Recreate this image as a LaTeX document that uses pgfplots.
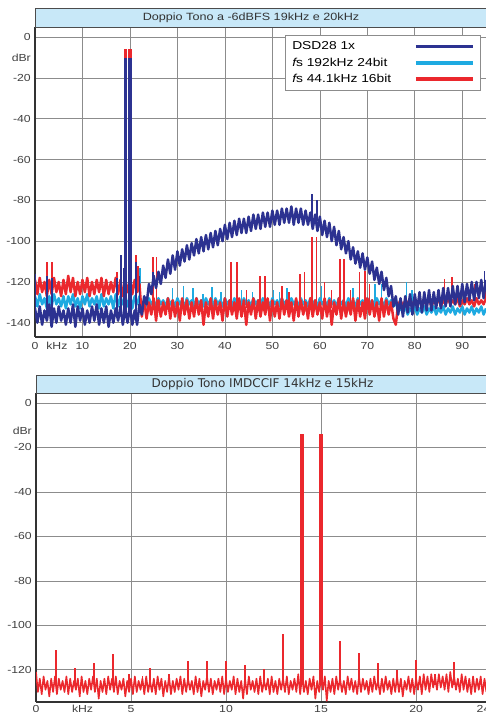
\documentclass[border=0pt]{standalone}
\usepackage{fontspec}
\setmainfont{Liberation Sans}[FakeStretch=1.2]
\newfontfamily\tahoma{DejaVu Sans}
\usepackage{pgfplots}
\usepackage{pgfplotstable}
\pgfplotsset{compat=1.18}

\definecolor{dsd}{RGB}{44,50,145}
\definecolor{hires}{RGB}{30,170,225}
\definecolor{cdq}{RGB}{235,40,45}
\definecolor{band}{RGB}{200,232,248}

% noise floors, 0.5 kHz steps (top chart)
\pgfplotstableread{
x navy cyan red
0 -133 -127 -119
0.5 -140 -132 -126
1 -132 -126 -118
1.5 -141 -131 -125
2 -134 -128 -120
2.5 -139 -133 -127
3 -131 -127 -119
3.5 -142 -132 -126
4 -133 -126 -118
4.5 -140 -131 -125
5 -132 -128 -120
5.5 -139 -132 -127
6 -134 -127 -119
6.5 -141 -133 -126
7 -133 -127 -117
7.5 -140 -131 -125
8 -131 -126 -118
8.5 -142 -132 -127
9 -132 -128 -120
9.5 -139 -133 -126
10 -133 -127 -119
10.5 -141 -131 -125
11 -134 -126 -118
11.5 -140 -132 -127
12 -132 -128 -120
12.5 -139 -131 -126
13 -131 -127 -119
13.5 -141 -133 -125
14 -133 -126 -118
14.5 -140 -132 -127
15 -132 -128 -119
15.5 -142 -131 -126
16 -134 -127 -120
16.5 -140 -133 -125
17 -133 -126 -118
17.5 -139 -132 -126
18 -132 -127 -119
18.5 -141 -131 -127
19 -133 -128 -120
19.5 -140 -132 -125
20 -132 -126 -118
20.5 -141 -133 -126
21 -134 -127 -119
21.5 -141 -131 -125
22 -131 -127 -121
22.5 -136 -132 -137
23 -127 -129 -129
23.5 -131 -132 -138
24 -121 -128 -130
24.5 -126 -131 -136
25 -117 -129 -128
25.5 -123 -132 -139
26 -115 -128 -129
26.5 -121 -131 -137
27 -112 -129 -130
27.5 -118 -132 -136
28 -109 -128 -128
28.5 -116 -131 -138
29 -107 -129 -129
29.5 -114 -132 -137
30 -105 -128 -130
30.5 -112 -131 -139
31 -104 -129 -128
31.5 -110 -132 -136
32 -102 -128 -129
32.5 -109 -131 -138
33 -101 -129 -130
33.5 -107 -132 -137
34 -99 -128 -128
34.5 -106 -131 -136
35 -98 -129 -129
35.5 -105 -132 -141
36 -97 -128 -130
36.5 -104 -131 -137
37 -96 -129 -128
37.5 -103 -132 -138
38 -95 -128 -129
38.5 -102 -131 -136
39 -94 -129 -130
39.5 -100 -132 -139
40 -92 -128 -128
40.5 -99 -131 -137
41 -91 -129 -129
41.5 -98 -132 -136
42 -90 -128 -130
42.5 -97 -131 -138
43 -89 -129 -128
43.5 -96 -132 -137
44 -89 -128 -129
44.5 -96 -131 -141
45 -88 -129 -130
45.5 -95 -132 -136
46 -87 -128 -128
46.5 -94 -131 -138
47 -87 -129 -129
47.5 -94 -132 -137
48 -86 -128 -130
48.5 -93 -131 -136
49 -86 -129 -128
49.5 -93 -132 -139
50 -85 -128 -129
50.5 -92 -131 -137
51 -85 -129 -130
51.5 -92 -132 -138
52 -84 -128 -128
52.5 -91 -131 -136
53 -84 -129 -129
53.5 -91 -132 -137
54 -83 -128 -130
54.5 -92 -131 -139
55 -84 -129 -128
55.5 -91 -132 -137
56 -84 -128 -129
56.5 -92 -131 -136
57 -85 -129 -130
57.5 -92 -132 -138
58 -86 -128 -128
58.5 -94 -131 -137
59 -87 -129 -129
59.5 -95 -132 -136
60 -88 -128 -130
60.5 -97 -131 -138
61 -90 -129 -128
61.5 -98 -132 -137
62 -91 -128 -129
62.5 -100 -131 -141
63 -93 -129 -130
63.5 -102 -132 -136
64 -95 -128 -128
64.5 -104 -131 -138
65 -98 -129 -129
65.5 -106 -132 -137
66 -100 -128 -130
66.5 -109 -131 -136
67 -103 -129 -128
67.5 -111 -132 -139
68 -105 -128 -129
68.5 -113 -131 -137
69 -106 -129 -130
69.5 -114 -132 -138
70 -108 -128 -128
70.5 -116 -131 -136
71 -110 -129 -129
71.5 -119 -132 -137
72 -113 -128 -130
72.5 -121 -131 -139
73 -115 -129 -128
73.5 -124 -132 -137
74 -118 -128 -129
74.5 -127 -131 -136
75 -122 -129 -130
75.5 -132 -132 -138
76 -127 -130 -141
76.5 -136 -134 -131
77 -128 -133 -129
77.5 -137 -135 -132
78 -127 -132 -129
78.5 -135 -136 -131
79 -126 -133 -128
79.5 -136 -135 -132
80 -126 -132 -129
80.5 -134 -136 -131
81 -125 -133 -128
81.5 -135 -135 -132
82 -125 -132 -129
82.5 -134 -136 -131
83 -124 -133 -128
83.5 -134 -135 -132
84 -125 -132 -129
84.5 -133 -136 -131
85 -124 -133 -128
85.5 -133 -135 -132
86 -123 -132 -129
86.5 -132 -136 -131
87 -123 -133 -128
87.5 -132 -135 -131
88 -122 -132 -129
88.5 -131 -136 -131
89 -122 -133 -128
89.5 -131 -135 -132
90 -121 -132 -129
90.5 -130 -136 -131
91 -121 -133 -128
91.5 -129 -135 -131
92 -120 -132 -129
92.5 -129 -136 -132
93 -120 -133 -128
93.5 -128 -135 -131
94 -119 -132 -129
94.5 -128 -136 -131
95 -119 -133 -128
}\floors

\pgfplotstableread{
x y
22.1 -129
22.1 -113
nan nan
29 -130
29 -123
nan nan
31.2 -130
31.2 -122
nan nan
33.3 -130
33.3 -123
nan nan
35.4 -130
35.4 -126
nan nan
37.3 -130
37.3 -122.5
nan nan
39.2 -130
39.2 -125
nan nan
43.5 -130
43.5 -124
nan nan
45.8 -130
45.8 -125
nan nan
50.3 -130
50.3 -124
nan nan
51.5 -130
51.5 -125
nan nan
53.1 -130
53.1 -123
nan nan
60.4 -130
60.4 -122
nan nan
67 -130
67 -123
nan nan
71.6 -130
71.6 -121
nan nan
73 -130
73 -121
nan nan
78.3 -133
78.3 -120
nan nan
79.4 -133
79.4 -124
}\spkcyan

\pgfplotstableread{
x y
2.5 -122
2.5 -110
nan nan
3.6 -122
3.6 -110
nan nan
17.3 -122
17.3 -115
nan nan
18.1 -122
18.1 -108
nan nan
21.3 -122
21.3 -107
nan nan
21.7 -122
21.7 -112
nan nan
24.9 -133
24.9 -108
nan nan
25.6 -133
25.6 -108
nan nan
41.3 -133
41.3 -110
nan nan
42.6 -133
42.6 -110
nan nan
44.5 -133
44.5 -124
nan nan
47.4 -133
47.4 -117
nan nan
48.4 -133
48.4 -117
nan nan
52 -133
52 -122
nan nan
53.5 -133
53.5 -125
nan nan
55.8 -133
55.8 -116
nan nan
56.8 -133
56.8 -115
nan nan
58.3 -133
58.3 -98
nan nan
59.3 -133
59.3 -98
nan nan
61 -133
61 -120
nan nan
62.5 -133
62.5 -124
nan nan
64.2 -133
64.2 -109
nan nan
65.1 -133
65.1 -109
nan nan
66.5 -133
66.5 -124
nan nan
68.4 -133
68.4 -115
nan nan
69.5 -133
69.5 -114.6
nan nan
70.5 -133
70.5 -121
nan nan
86.3 -128
86.3 -118.5
nan nan
87.8 -128
87.8 -117.6
nan nan
92.6 -128
92.6 -121
nan nan
94.8 -128
94.8 -123
}\spkred

\pgfplotstableread{
x y
0 -137
0 -116
nan nan
2.5 -137
2.5 -117
nan nan
3.6 -137
3.6 -118
nan nan
17.3 -136
17.3 -118
nan nan
18.1 -136
18.1 -107
nan nan
18.6 -136
18.6 -113
nan nan
21.3 -136
21.3 -110
nan nan
22 -135
22 -117
nan nan
24.9 -122
24.9 -115
nan nan
58.3 -90
58.3 -77
nan nan
59.4 -90
59.4 -80
nan nan
92 -125
92 -120
nan nan
94.7 -124
94.7 -114.6
}\spknavy

\pgfplotstableread{
x y
1.05 -127
1.05 -111
nan nan
2.05 -127
2.05 -119
nan nan
3.05 -127
3.05 -117
nan nan
4.05 -127
4.05 -113
nan nan
4.9 -127
4.9 -122
nan nan
5.6 -127
5.6 -123
nan nan
6 -127
6 -119
nan nan
7 -127
7 -122
nan nan
8 -127
8 -116
nan nan
9 -127
9 -116
nan nan
10 -127
10 -116
nan nan
11 -127
11 -118
nan nan
12 -127
12 -119.5
nan nan
13 -127
13 -104
nan nan
16 -127
16 -107
nan nan
17 -127
17 -112.5
nan nan
18 -127
18 -117
nan nan
19 -127
19 -120
nan nan
20 -127
20 -115.5
nan nan
21 -127
21 -122
nan nan
22 -127
22 -116.5
}\spkbottom

\pgfplotsset{
  spec/.style={
    scale only axis, axis lines=left,
    axis line style={-, draw=black!80, line width=1.2pt},
    enlargelimits=false,
    grid=major, major grid style={draw=black!45, line width=0.6pt},
    major tick length=0pt,
    tick label style={font=\fontsize{10.2}{12}\selectfont, text=black!75},
    yticklabel style={anchor=east, inner sep=0pt, xshift=-4pt},
    xticklabel style={anchor=north, inner sep=0pt, yshift=-5pt},
    extra tick style={grid=none},
  },
  noise/.style={line width=2.5pt, line join=round, forget plot},
  spike/.style={line width=1.5pt, unbounded coords=jump, forget plot},
  tone/.style={line width=3.3pt, unbounded coords=jump, forget plot},
}

\begin{document}
\begin{tikzpicture}
\begin{axis}[spec,
  at={(35pt,377pt)}, anchor=south west,
  width=451pt, height=310pt,
  xmin=0, xmax=95, ymin=-147, ymax=5,
  xtick={0,10,...,90}, xticklabels={0,10,20,30,40,50,60,70,80,90},
  extra x ticks={4.6}, extra x tick labels={kHz},
  ytick={-140,-120,...,0},
  yticklabels={-140,-120,-100,-80,-60,-40,-20,0},
  extra y ticks={-10}, extra y tick labels={dBr},
  legend style={at={(0.554,0.974)}, anchor=north west, draw=black!45,
    line width=0.8pt, fill=white, font=\fontsize{11.5}{13}\selectfont,
    inner xsep=6pt, inner ysep=5.5pt, row sep=4.5pt, column sep=22pt,
    nodes={inner sep=1pt, anchor=west}},
  legend plot pos=right, legend cell align=left,
  legend image code/.code={\draw[#1, line width=3.5pt] (0pt,0pt) -- (57pt,0pt);},
]
\addplot[hires, noise] table[x=x, y=cyan] {\floors};
\addplot[hires, spike, line width=1.2pt] table {\spkcyan};
\addplot[cdq, noise] table[x=x, y=red] {\floors};
\addplot[cdq, spike] table {\spkred};
\addplot[dsd, noise] table[x=x, y=navy] {\floors};
\addplot[dsd, spike] table {\spknavy};
\addplot[cdq, tone] coordinates {(19,-122) (19,-6) (nan,nan) (20,-122) (20,-6)};
\addplot[dsd, tone] coordinates {(19,-136) (19,-10) (nan,nan) (20,-136) (20,-10)};
\addlegendimage{dsd}\addlegendentry{DSD28 1x}
\addlegendimage{hires}\addlegendentry{{\itshape f}s 192kHz 24bit}
\addlegendimage{cdq}\addlegendentry{{\itshape f}s 44.1kHz 16bit}
\end{axis}

\begin{axis}[spec,
  at={(36pt,12pt)}, anchor=south west,
  width=450pt, height=309pt,
  xmin=0, xmax=23.68, ymin=-134.5, ymax=4.5,
  xtick={0,5,10,15,20}, xticklabels={0,5,10,15,20},
  extra x ticks={2.45,23.55}, extra x tick labels={kHz,24},
  xticklabel style={yshift=2pt},
  ytick={-120,-100,...,0},
  yticklabels={-120,-100,-80,-60,-40,-20,0},
  extra y ticks={-12.5}, extra y tick labels={dBr},
]
\addplot[cdq, noise, line width=1.6pt] coordinates {
(0,-121)(0.1,-130)(0.2,-124)(0.3,-131)(0.4,-123)(0.5,-129)(0.6,-125)(0.7,-132)(0.8,-124)(0.9,-130)
(1,-123)(1.1,-131)(1.2,-124)(1.3,-129)(1.4,-125)(1.5,-130)(1.6,-123)(1.7,-131)(1.8,-124)(1.9,-130)
(2,-125)(2.1,-129)(2.2,-124)(2.3,-132)(2.4,-123)(2.5,-130)(2.6,-125)(2.7,-131)(2.8,-124)(2.9,-129)
(3,-123)(3.1,-130)(3.2,-124)(3.3,-133)(3.4,-125)(3.5,-130)(3.6,-124)(3.7,-131)(3.8,-123)(3.9,-129)
(4,-124)(4.1,-130)(4.2,-123)(4.3,-131)(4.4,-125)(4.5,-129)(4.6,-124)(4.7,-132)(4.8,-125)(4.9,-130)
(5,-124)(5.1,-131)(5.2,-123)(5.3,-130)(5.4,-125)(5.5,-129)(5.6,-124)(5.7,-131)(5.8,-123)(5.9,-130)
(6,-125)(6.1,-130)(6.2,-124)(6.3,-131)(6.4,-123)(6.5,-129)(6.6,-124)(6.7,-132)(6.8,-125)(6.9,-130)
(7,-123)(7.1,-131)(7.2,-125)(7.3,-130)(7.4,-124)(7.5,-129)(7.6,-123)(7.7,-131)(7.8,-124)(7.9,-130)
(8,-124)(8.1,-129)(8.2,-125)(8.3,-131)(8.4,-123)(8.5,-130)(8.6,-124)(8.7,-132)(8.8,-125)(8.9,-129)
(9,-123)(9.1,-130)(9.2,-124)(9.3,-131)(9.4,-125)(9.5,-129)(9.6,-124)(9.7,-130)(9.8,-123)(9.9,-131)
(10,-124)(10.1,-130)(10.2,-125)(10.3,-129)(10.4,-123)(10.5,-131)(10.6,-124)(10.7,-130)(10.8,-125)(10.9,-133)
(11,-124)(11.1,-131)(11.2,-123)(11.3,-129)(11.4,-125)(11.5,-130)(11.6,-124)(11.7,-131)(11.8,-123)(11.9,-130)
(12,-125)(12.1,-129)(12.2,-124)(12.3,-131)(12.4,-123)(12.5,-130)(12.6,-125)(12.7,-131)(12.8,-124)(12.9,-129)
(13,-124)(13.1,-130)(13.2,-123)(13.3,-131)(13.4,-125)(13.5,-129)(13.6,-124)(13.7,-130)(13.8,-122)(13.9,-131)
(14,-123)(14.1,-130)(14.2,-125)(14.3,-131)(14.4,-124)(14.5,-129)(14.6,-123)(14.7,-133)(14.8,-125)(14.9,-130)
(15,-124)(15.1,-129)(15.2,-123)(15.3,-134)(15.4,-125)(15.5,-130)(15.6,-124)(15.7,-131)(15.8,-123)(15.9,-129)
(16,-124)(16.1,-130)(16.2,-125)(16.3,-131)(16.4,-123)(16.5,-129)(16.6,-124)(16.7,-130)(16.8,-125)(16.9,-131)
(17,-123)(17.1,-130)(17.2,-124)(17.3,-129)(17.4,-125)(17.5,-131)(17.6,-124)(17.7,-130)(17.8,-123)(17.9,-129)
(18,-125)(18.1,-131)(18.2,-124)(18.3,-130)(18.4,-123)(18.5,-129)(18.6,-125)(18.7,-131)(18.8,-124)(18.9,-130)
(19,-123)(19.1,-130)(19.2,-124)(19.3,-132)(19.4,-125)(19.5,-129)(19.6,-123)(19.7,-130)(19.8,-124)(19.9,-131)
(20,-124)(20.1,-129)(20.2,-123)(20.3,-131)(20.4,-122)(20.5,-129)(20.6,-123)(20.7,-130)(20.8,-122)(20.9,-128)
(21,-123)(21.1,-129)(21.2,-122)(21.3,-128)(21.4,-123)(21.5,-129)(21.6,-122)(21.7,-130)(21.8,-121)(21.9,-128)
(22,-123)(22.1,-129)(22.2,-124)(22.3,-130)(22.4,-122)(22.5,-129)(22.6,-123)(22.7,-130)(22.8,-124)(22.9,-131)
(23,-123)(23.1,-130)(23.2,-124)(23.3,-129)(23.4,-123)(23.5,-131)(23.6,-124)(23.7,-130)
};
\addplot[cdq, spike] table {\spkbottom};
\addplot[cdq, tone, line width=3.5pt] coordinates {(14,-127) (14,-14) (nan,nan) (15,-127) (15,-14)};
\end{axis}

% title bands
\fill[band] (35pt,687pt) rectangle (486pt,706pt);
\draw[black!70, line width=0.8pt] (487pt,706pt) -- (35pt,706pt) -- (35pt,687pt) -- (487pt,687pt);
\node[font=\fontsize{10.5}{12}\selectfont, text=black!80] at (251pt,696.5pt)
  {Doppio Tono a -6dBFS 19kHz e 20kHz};
\fill[band] (36pt,321pt) rectangle (486pt,339pt);
\draw[black!70, line width=0.8pt] (487pt,339pt) -- (36pt,339pt) -- (36pt,321pt) -- (487pt,321pt);
\node[font={\tahoma\fontsize{12}{14}\selectfont}, text=black!80] at (262.5pt,330pt)
  {Doppio Tono IMDCCIF 14kHz e 15kHz};

\pgfresetboundingbox
\path[use as bounding box] (0pt,0pt) rectangle (486pt,714pt);
\end{tikzpicture}
\end{document}
